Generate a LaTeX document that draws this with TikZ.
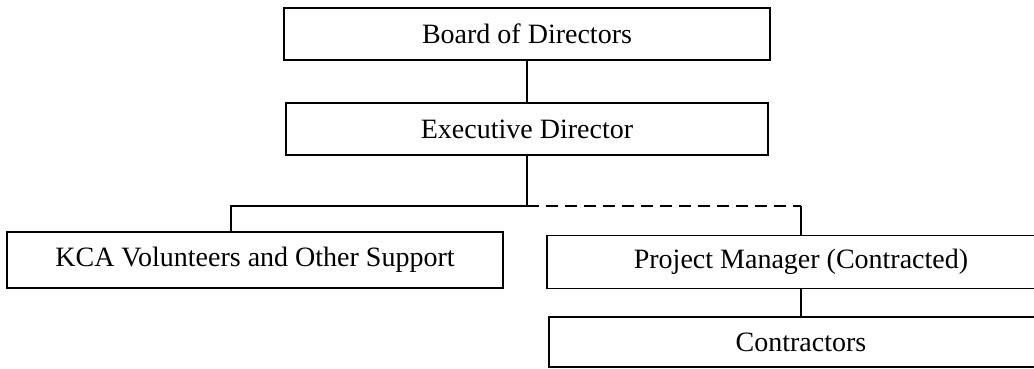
\documentclass[tikz,border=0pt]{standalone}
\usepackage{fontspec}
\setmainfont{Liberation Serif}

\tikzset{
  orgbox/.style={draw, line width=1.6pt, inner sep=0pt, align=center,
                 font=\fontsize{28}{33}\selectfont},
  orgline/.style={line width=1.6pt}
}

\begin{document}
\begin{tikzpicture}[x=1pt,y=-1pt]

   \useasboundingbox (0,0) rectangle (1034,369);

   \node (Board) at (527,34) [orgbox, minimum width=486pt, minimum height=52pt] {Board of Directors};
   \node (Exec) at (527,129) [orgbox, minimum width=482pt, minimum height=52pt] {Executive Director};

   \node (KCA) at (255,260) [orgbox, minimum width=496pt, minimum height=56pt] {KCA Volunteers and Other Support};
   \node (Manager) at (801,262) [orgbox, minimum width=508pt, minimum height=53pt] {Project Manager (Contracted)};
   \node (Contractors) at (801,342) [orgbox, minimum width=504pt, minimum height=50pt] {Contractors};

   \coordinate (Split) at (527,206);
   \coordinate (LeftBend) at (231,206);
   \coordinate (RightBend) at (801,206);

   \draw [orgline] (Board.south) -- (Exec.north);
   \draw [orgline] (Exec.south) -- (Split);
   \draw [orgline] (Split) -- (LeftBend) -- (LeftBend |- KCA.north);
   \draw [orgline, dash pattern=on 12pt off 7pt] (Split) -- (RightBend);
   \draw [orgline] (RightBend) -- (Manager.north);
   \draw [orgline] (Manager.south) -- (Contractors.north);

\end{tikzpicture}
\end{document}
